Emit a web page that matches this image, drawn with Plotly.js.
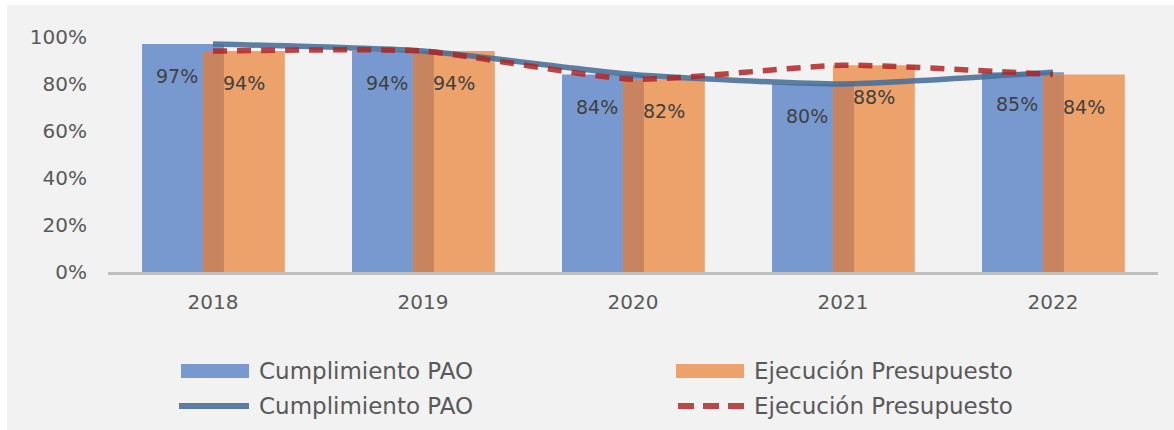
<!DOCTYPE html>
<html>
<head>
<meta charset="utf-8">
<script src="https://cdn.plot.ly/plotly-3.0.1.min.js"></script>
<style>
  html, body { margin: 0; padding: 0; background: #ffffff; }
  #chart { width: 1174px; height: 430px; }
</style>
</head>
<body>
<div id="chart"></div>
<script>
//----------------------------------DATOS----------------------------------//

const years = ['2018', '2019', '2020', '2021', '2022'];
const cumplimientoPAO = [0.97, 0.94, 0.84, 0.80, 0.85];
const ejecucionPresupuesto = [0.94, 0.94, 0.82, 0.88, 0.84];
const seriesNames = ['Cumplimiento PAO', 'Ejecución Presupuesto'];
const yTicks = [0, 0.2, 0.4, 0.6, 0.8, 1.0];

const chartTitle = 'Gráfica 1. Comparativo del cumplimiento de metas y ejecución de recursos 2018 - 2022';

//----------------------------------ESTILO----------------------------------//

const W = 1174, H = 430;
const M = { l: 108, r: 16, t: 37, b: 158 };
const plotW = W - M.l - M.r;
const plotH = H - M.t - M.b;

// pixel -> paper (solo para marco, título y leyenda)
const px2x = px => (px - M.l) / plotW;
const px2y = py => (H - M.b - py) / plotH;

const blueBar = '#7799d0';
const orangeBar = '#eea26b';
const overlapBar = '#c8845f';
const blueLine = 'rgba(70,110,150,0.88)';
const redLine = 'rgba(175,38,38,0.85)';
const grayText = '#595959';
const font = 'DejaVu Sans, Verdana, sans-serif';

//----------------------------------TRAZAS----------------------------------//

const barWidth = 0.39;

const traces = [
  {
    type: 'bar', name: seriesNames[0],
    x: years, y: cumplimientoPAO,
    width: barWidth, offset: -0.338,
    marker: { color: blueBar },
    hoverinfo: 'skip'
  },
  {
    type: 'bar', name: seriesNames[1],
    x: years, y: ejecucionPresupuesto,
    width: barWidth, offset: -0.048,
    marker: { color: orangeBar },
    hoverinfo: 'skip'
  },
  {
    // zona donde se solapan las dos barras
    type: 'bar', name: 'solape',
    x: years, y: years.map((_, i) => Math.min(cumplimientoPAO[i], ejecucionPresupuesto[i])),
    width: 0.10, offset: -0.048,
    marker: { color: overlapBar },
    hoverinfo: 'skip'
  },
  {
    type: 'scatter', mode: 'lines', name: seriesNames[0],
    x: years, y: cumplimientoPAO,
    line: { color: blueLine, width: 5.5, shape: 'spline', smoothing: 0.55 },
    hoverinfo: 'skip'
  },
  {
    type: 'scatter', mode: 'lines', name: seriesNames[1],
    x: years, y: ejecucionPresupuesto,
    line: { color: redLine, width: 5.5, shape: 'spline', smoothing: 0.55, dash: '14px,10px' },
    hoverinfo: 'skip'
  }
];

//----------------------------------ETIQUETAS----------------------------------//

const pct = v => Math.round(v * 100) + '%';

// en eje de categorías la x de la anotación va por índice
const labelAnnotations = [];
years.forEach((yr, i) => {
  labelAnnotations.push({
    x: i, y: cumplimientoPAO[i], xref: 'x', yref: 'y',
    text: pct(cumplimientoPAO[i]), showarrow: false,
    xshift: -36, yshift: -32,
    font: { family: font, size: 19, color: '#404040' }
  });
  labelAnnotations.push({
    x: i, y: ejecucionPresupuesto[i], xref: 'x', yref: 'y',
    text: pct(ejecucionPresupuesto[i]), showarrow: false,
    xshift: 31, yshift: -32,
    font: { family: font, size: 19, color: '#404040' }
  });
});

// título cortado arriba, como en la imagen
const titleAnnotation = {
  xref: 'paper', yref: 'paper',
  x: px2x(32), y: px2y(2),
  xanchor: 'left', yanchor: 'bottom',
  text: '<b>' + chartTitle + '</b>', showarrow: false,
  font: { family: 'Liberation Sans, Arial, sans-serif', size: 25, color: '#000000' }
};

//----------------------------------LEYENDA----------------------------------//

const legendItems = [
  { name: seriesNames[0], kind: 'bar', color: blueBar, sx: 181, tx: 257, cy: 371 },
  { name: seriesNames[1], kind: 'bar', color: orangeBar, sx: 676, tx: 752, cy: 371 },
  { name: seriesNames[0], kind: 'line', color: '#5a7ea3', sx: 179, tx: 257, cy: 406 },
  { name: seriesNames[1], kind: 'dash', color: '#b84848', sx: 678, tx: 752, cy: 406 }
];

const legendShapes = legendItems.map(it => {
  if (it.kind === 'bar') {
    return {
      type: 'rect', xref: 'paper', yref: 'paper',
      x0: px2x(it.sx), x1: px2x(it.sx + 68),
      y0: px2y(it.cy + 7), y1: px2y(it.cy - 7),
      fillcolor: it.color, line: { width: 0 }
    };
  }
  return {
    type: 'line', xref: 'paper', yref: 'paper',
    x0: px2x(it.sx), x1: px2x(it.sx + 70),
    y0: px2y(it.cy), y1: px2y(it.cy),
    line: { color: it.color, width: 6, dash: it.kind === 'dash' ? '16px,9px' : 'solid' }
  };
});

const legendAnnotations = legendItems.map(it => ({
  xref: 'paper', yref: 'paper',
  x: px2x(it.tx), y: px2y(it.cy),
  xanchor: 'left', yanchor: 'middle',
  text: it.name, showarrow: false,
  font: { family: font, size: 23, color: grayText }
}));

//----------------------------------FONDO----------------------------------//

const frameShape = {
  type: 'rect', xref: 'paper', yref: 'paper', layer: 'below',
  x0: px2x(7), x1: px2x(W + 2),
  y0: px2y(H + 2), y1: px2y(5),
  fillcolor: '#f2f2f2', line: { width: 0 }
};

//----------------------------------LAYOUT----------------------------------//

const layout = {
  width: W, height: H,
  margin: M,
  paper_bgcolor: '#ffffff',
  plot_bgcolor: 'rgba(0,0,0,0)',
  barmode: 'overlay',
  showlegend: false,
  xaxis: {
    type: 'category',
    range: [-0.5, years.length - 0.5],
    showgrid: false, zeroline: false,
    showline: true, linecolor: '#bfbfbf', linewidth: 3,
    ticks: '', ticklabelstandoff: 10,
    tickfont: { family: font, size: 20, color: grayText }
  },
  yaxis: {
    range: [0, 1],
    tickvals: yTicks, tickformat: '.0%',
    showgrid: false, zeroline: false, showline: false,
    ticks: '', ticklabelstandoff: 20,
    tickfont: { family: font, size: 20, color: grayText }
  },
  shapes: [frameShape, ...legendShapes],
  annotations: [titleAnnotation, ...labelAnnotations, ...legendAnnotations]
};

Plotly.newPlot('chart', traces, layout, { staticPlot: true });
</script>
</body>
</html>
